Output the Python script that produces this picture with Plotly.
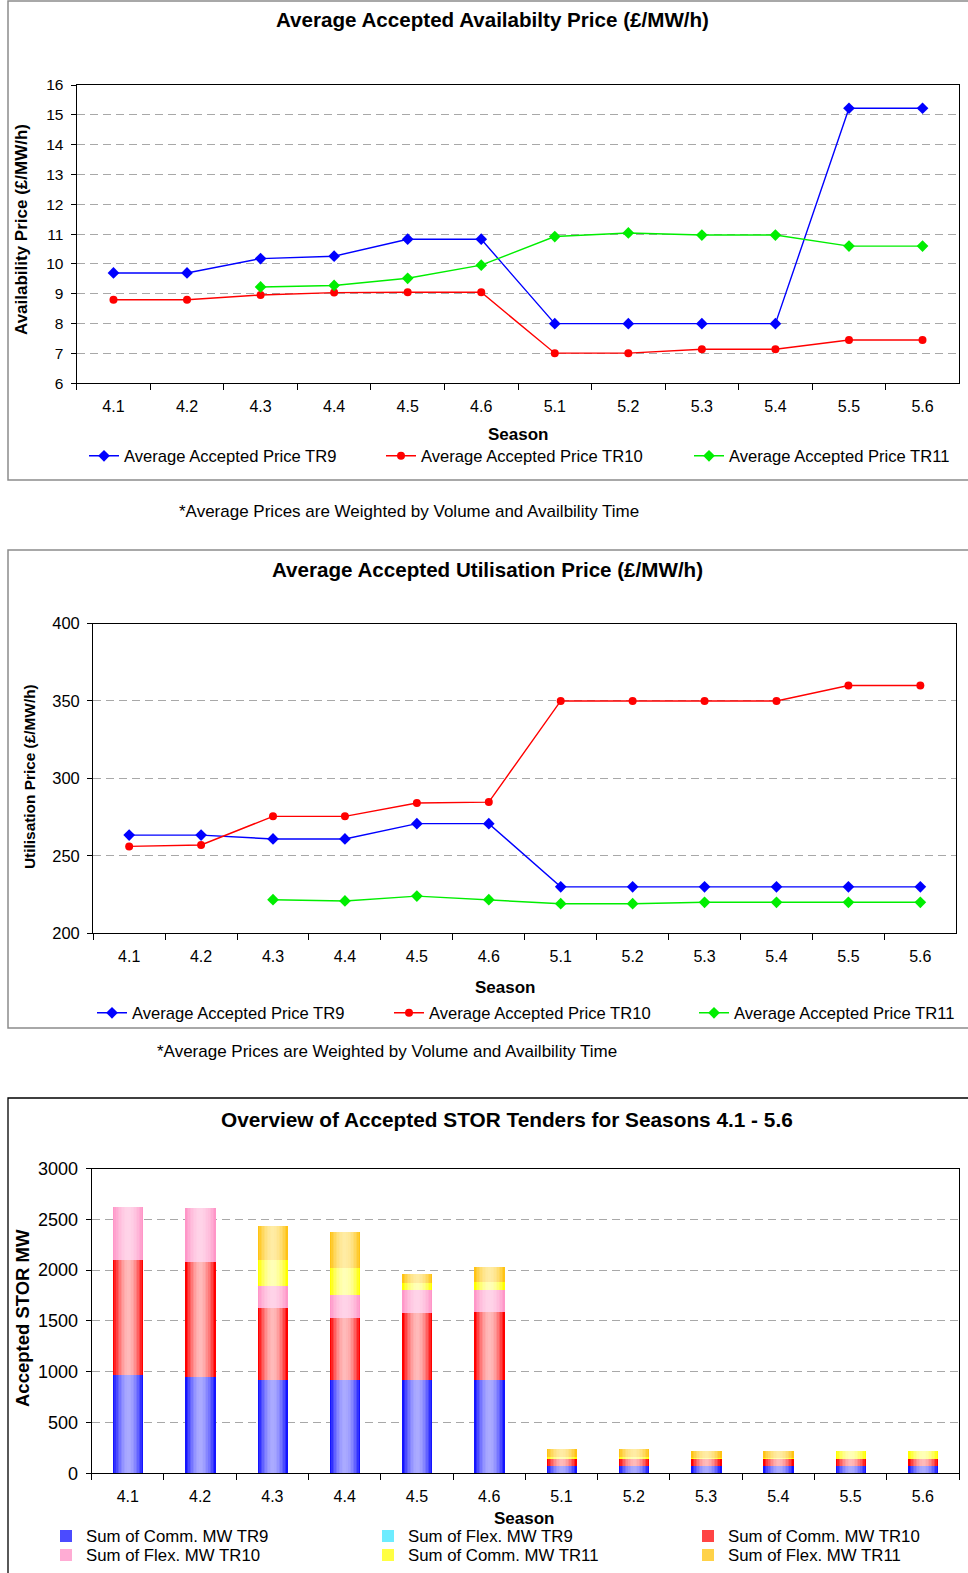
import plotly.graph_objects as go
import numpy as np

W_PX, H_PX = 968, 1573
FONT = "Liberation Sans, Arial, sans-serif"

# ---------------- data ----------------
seasons = ["4.1", "4.2", "4.3", "4.4", "4.5", "4.6", "5.1", "5.2", "5.3", "5.4", "5.5", "5.6"]

avail_tr9 = [9.7, 9.7, 10.18, 10.26, 10.83, 10.83, 8.0, 8.0, 8.0, 8.0, 15.22, 15.22]
avail_tr10 = [8.8, 8.8, 8.96, 9.04, 9.05, 9.05, 7.01, 7.01, 7.14, 7.14, 7.45, 7.45]
avail_tr11 = [None, None, 9.23, 9.28, 9.52, 9.96, 10.92, 11.04, 10.97, 10.97, 10.6, 10.6]

util_tr9 = [263.4, 263.4, 260.9, 260.9, 270.8, 270.8, 230, 230, 230, 230, 230, 230]
util_tr10 = [256.1, 257, 275.5, 275.5, 284.1, 284.7, 350, 350, 350, 350, 360, 360]
util_tr11 = [None, None, 221.7, 220.9, 224, 221.7, 219.1, 219.1, 220, 220, 220, 220]

comm_tr9 = [976, 953, 923, 923, 923, 923, 77, 77, 77, 77, 77, 77]
flex_tr9 = [0, 0, 0, 0, 0, 0, 0, 0, 0, 0, 0, 0]
comm_tr10 = [1133, 1133, 710, 611, 660, 670, 70, 70, 70, 70, 70, 70]
flex_tr10 = [519, 532, 216, 227, 227, 217, 0, 0, 0, 0, 0, 0]
comm_tr11 = [0, 0, 257, 266, 69, 79, 16, 16, 10, 10, 80, 80]
flex_tr11 = [0, 0, 335, 355, 89, 148, 84, 84, 70, 70, 0, 0]

line_names = ["Average Accepted Price TR9", "Average Accepted Price TR10", "Average Accepted Price TR11"]
bar_names = ["Sum of Comm. MW TR9", "Sum of Flex. MW TR9", "Sum of Comm. MW TR10",
             "Sum of Flex. MW TR10", "Sum of Comm. MW TR11", "Sum of Flex. MW TR11"]


def px(x):
    return x / W_PX


def py(y):
    return 1 - y / H_PX


fig = go.Figure()

# ---------------- line charts ----------------
line_styles = [
    dict(color="#0000FF", symbol="diamond", size=9),
    dict(color="#FF0000", symbol="circle", size=8),
    dict(color="#00EE00", symbol="diamond", size=9),
]

for series_list, xa, ya, legs in [
    ([avail_tr9, avail_tr10, avail_tr11], "x", "y", ["legend", "legend2", "legend3"]),
    ([util_tr9, util_tr10, util_tr11], "x2", "y2", ["legend4", "legend5", "legend6"]),
]:
    for vals, name, st, lg in zip(series_list, line_names, line_styles, legs):
        fig.add_trace(go.Scatter(
            x=seasons, y=vals, name=name, mode="lines+markers",
            line=dict(color=st["color"], width=1.4),
            marker=dict(color=st["color"], symbol=st["symbol"], size=st["size"]),
            xaxis=xa, yaxis=ya, legend=lg, showlegend=True,
        ))

# ---------------- stacked gradient bars ----------------
bar_series = [comm_tr9, flex_tr9, comm_tr10, flex_tr10, comm_tr11, flex_tr11]
edge_cols = [(20, 20, 255), (60, 225, 255), (255, 0, 0), (255, 150, 200), (255, 255, 0), (255, 195, 20)]
center_cols = [(172, 172, 255), (195, 255, 255), (255, 188, 188), (255, 212, 232), (255, 255, 185), (255, 236, 165)]
bar_legs = ["legend7", "legend8", "legend9", "legend10", "legend11", "legend12"]

BAR_W = 0.42
N_LAYERS = 10
base = np.zeros(len(seasons))
for s_idx, (vals, name) in enumerate(zip(bar_series, bar_names)):
    vals_arr = np.array(vals, dtype=float)
    e, c = edge_cols[s_idx], center_cols[s_idx]
    for k in range(N_LAYERS):
        r = 1 - k / N_LAYERS
        t = 1 - r ** 2
        col = tuple(int(round(e[i] + (c[i] - e[i]) * t)) for i in range(3))
        fig.add_trace(go.Bar(
            x=seasons, y=vals_arr, base=base.copy(), width=BAR_W * r,
            name=name, legendgroup=name, showlegend=(k == 2),
            marker=dict(color="rgb(%d,%d,%d)" % col, line=dict(width=0)),
            xaxis="x3", yaxis="y3", legend=bar_legs[s_idx],
        ))
    base = base + vals_arr

# ---------------- axes ----------------
def xaxis_cfg(domain, anchor):
    return dict(
        domain=domain, anchor=anchor, type="category", range=[-0.5, 11.5], automargin=False,
        tickson="boundaries", ticks="outside", ticklen=6, tickcolor="black", tickwidth=1.2,
        showline=True, linecolor="black", linewidth=1.3, mirror=True, showgrid=False,
        tickfont=dict(family=FONT, size=16, color="black"), ticklabelstandoff=8, fixedrange=True,
    )


def yaxis_cfg(domain, anchor, rng, dtick, fsize):
    return dict(
        domain=domain, anchor=anchor, range=rng, dtick=dtick, tick0=rng[0], automargin=False,
        ticks="outside", ticklen=5, tickcolor="black", tickwidth=1.2,
        showline=True, linecolor="black", linewidth=1.3, mirror=True,
        showgrid=True, gridcolor="#A8A8A8", gridwidth=1, griddash="8px,5px", zeroline=False,
        tickfont=dict(family=FONT, size=fsize, color="black"), ticklabelstandoff=4, fixedrange=True,
    )


fig.update_layout(
    xaxis=xaxis_cfg([px(76.7), px(959.3)], "y"),
    yaxis=yaxis_cfg([py(383.3), py(85)], "x", [6, 16], 1, 15.5),
    xaxis2=xaxis_cfg([px(93.2), px(956.3)], "y2"),
    yaxis2=yaxis_cfg([py(933.3), py(623.5)], "x2", [200, 400], 50, 16.5),
    xaxis3=xaxis_cfg([px(91.7), px(959)], "y3"),
    yaxis3=yaxis_cfg([py(1473.2), py(1168.5)], "x3", [0, 3000], 500, 18),
)

# ---------------- legends ----------------
def leg(x_px, y_px, size):
    return dict(
        x=px(x_px), y=py(y_px), xanchor="left", yanchor="middle", orientation="h",
        font=dict(family=FONT, size=size, color="black"), bgcolor="rgba(0,0,0,0)",
        borderwidth=0, itemclick=False, itemdoubleclick=False,
    )

legend_pos = {
    "legend": (84, 456, 16.6), "legend2": (381, 456, 16.6), "legend3": (689, 456, 16.6),
    "legend4": (92, 1013, 16.6), "legend5": (389, 1013, 16.6), "legend6": (694, 1013, 16.6),
    "legend7": (46, 1536, 16.8), "legend8": (368, 1536, 16.8), "legend9": (688, 1536, 16.8),
    "legend10": (46, 1555, 16.8), "legend11": (368, 1555, 16.8), "legend12": (688, 1555, 16.8),
}
fig.update_layout(**{k: leg(*v) for k, v in legend_pos.items()})

# ---------------- frames ----------------
shapes = [
    dict(type="rect", xref="paper", yref="paper", x0=px(8), x1=px(975), y0=py(480), y1=py(1),
         line=dict(color="#8C8C8C", width=1.5), fillcolor="rgba(0,0,0,0)", layer="below"),
    dict(type="rect", xref="paper", yref="paper", x0=px(8), x1=px(975), y0=py(1028), y1=py(550),
         line=dict(color="#8C8C8C", width=1.5), fillcolor="rgba(0,0,0,0)", layer="below"),
    dict(type="rect", xref="paper", yref="paper", x0=px(8), x1=px(975), y0=py(1580), y1=py(1098),
         line=dict(color="#000000", width=1.3), fillcolor="rgba(0,0,0,0)", layer="below"),
]

# ---------------- text ----------------
def ann(text, x, y, size, bold=False, angle=0):
    return dict(
        text="<b>%s</b>" % text if bold else text, x=px(x), y=py(y), xref="paper", yref="paper",
        xanchor="center", yanchor="middle", showarrow=False, textangle=angle,
        font=dict(family=FONT, size=size, color="black"),
    )

annotations = [
    ann("Average Accepted Availabilty Price (£/MW/h)", 492, 20, 20.6, True),
    ann("Season", 518, 434, 17, True),
    ann("Availability Price (£/MW/h)", 22, 230, 17, True, -90),
    ann("*Average Prices are Weighted by Volume and Availbility Time", 409, 511, 17),
    ann("Average Accepted Utilisation Price (£/MW/h)", 487, 569, 20.6, True),
    ann("Season", 505, 987, 17, True),
    ann("Utilisation Price (£/MW/h)", 29, 777, 15.4, True, -90),
    ann("*Average Prices are Weighted by Volume and Availbility Time", 387, 1051, 17),
    ann("Overview of Accepted STOR Tenders for Seasons 4.1 - 5.6", 507, 1119, 20.8, True),
    ann("Season", 524, 1518, 17, True),
    ann("Accepted STOR MW", 22, 1318, 18.5, True, -90),
]

fig.update_layout(
    width=W_PX, height=H_PX, autosize=False,
    margin=dict(l=0, r=0, t=0, b=0, pad=0),
    paper_bgcolor="white", plot_bgcolor="white",
    barmode="overlay", bargap=0, showlegend=True,
    font=dict(family=FONT, color="black"),
    shapes=shapes, annotations=annotations,
    hovermode="closest",
)

fig.write_html("out.html", config={"displayModeBar": False})
